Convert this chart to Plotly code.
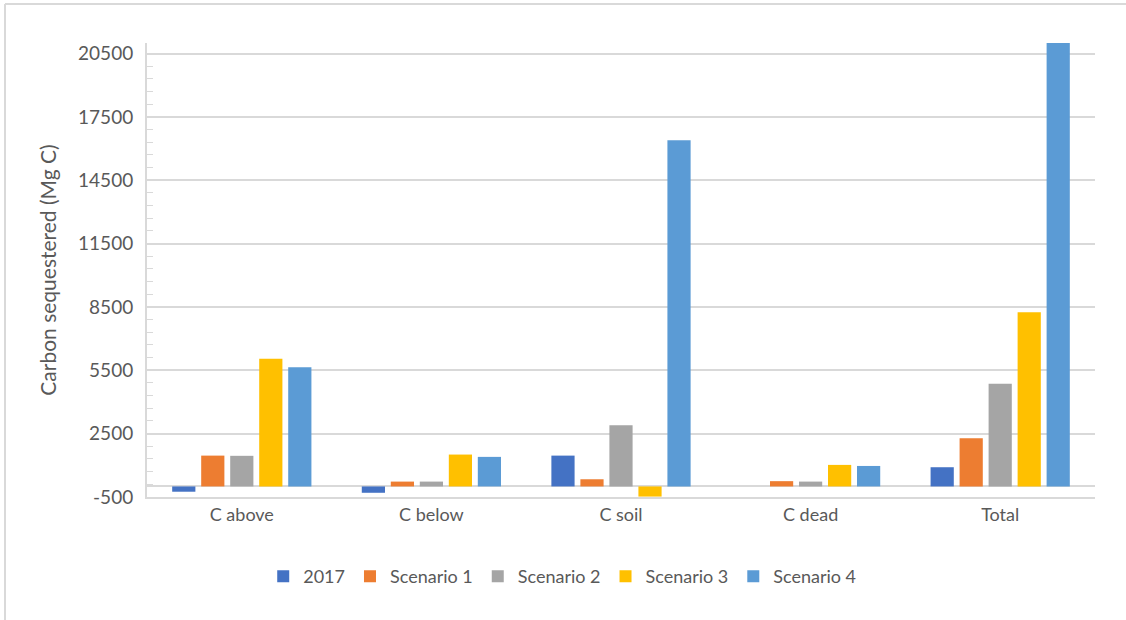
import plotly.graph_objects as go

# Carbon pools and scenarios
categories = ["C above", "C below", "C soil", "C dead", "Total"]
series_names = ["2017", "Scenario 1", "Scenario 2", "Scenario 3", "Scenario 4"]

values_2017 = [-250, -300, 1460, 0, 910]
values_s1 = [1460, 230, 340, 250, 2280]
values_s2 = [1450, 230, 2900, 230, 4860]
values_s3 = [6050, 1510, -480, 1020, 8250]
values_s4 = [5640, 1400, 16400, 970, 24410]

y_tick_values = [-500, 2500, 5500, 8500, 11500, 14500, 17500, 20500]
y_tick_labels = ["-500", "2500", "5500", "8500", "11500", "14500", "17500", "20500"]

colors = ["#4472C4", "#ED7D31", "#A5A5A5", "#FFC000", "#5B9BD5"]
all_values = [values_2017, values_s1, values_s2, values_s3, values_s4]

FONT = "Lato, 'Open Sans', sans-serif"
GRID = "#d9d9d9"
TEXT = "#595959"

fig = go.Figure()
for name, vals, col in zip(series_names, all_values, colors):
    fig.add_trace(go.Bar(
        name=name, x=categories, y=vals,
        marker=dict(color=col, line=dict(width=0)),
    ))

fig.update_layout(
    width=1126, height=620,
    margin=dict(l=147, r=31, t=43, b=123),
    paper_bgcolor="white", plot_bgcolor="white",
    barmode="group", bargap=0.235, bargroupgap=0.2,
    font=dict(family=FONT, color=TEXT, size=18),
    showlegend=True,
    legend=dict(
        orientation="h", x=0.438, xanchor="center", y=-0.175, yanchor="middle",
        font=dict(size=18, color=TEXT), itemwidth=30, traceorder="normal",
    ),
    xaxis=dict(
        showgrid=False, showline=True, linecolor=GRID, linewidth=2,
        ticks="", tickfont=dict(size=18, color=TEXT),
    ),
    yaxis=dict(
        range=[-500, 21000],
        tickmode="array", tickvals=y_tick_values, ticktext=y_tick_labels,
        showgrid=True, gridcolor=GRID, gridwidth=2,
        zeroline=True, zerolinecolor=GRID, zerolinewidth=2,
        showline=True, linecolor=GRID, linewidth=2,
        ticks="", ticklabelstandoff=8,
        tickfont=dict(size=19, color=TEXT),
        minor=dict(tick0=-500, dtick=600, ticks="inside", ticklen=6,
                   tickcolor=GRID, tickwidth=1, showgrid=False),
        title=dict(text="Carbon sequestered (Mg C)", font=dict(size=21, color=TEXT),
                   standoff=16),
    ),
    shapes=[
        dict(type="line", xref="paper", yref="paper", x0=-0.1498, x1=-0.1498,
             y0=-0.28, y1=1.0859, line=dict(color=GRID, width=2)),
        dict(type="line", xref="paper", yref="paper", x0=-0.1498, x1=1.04,
             y0=1.0859, y1=1.0859, line=dict(color=GRID, width=2)),
    ],
)

fig.write_html("out.html")
